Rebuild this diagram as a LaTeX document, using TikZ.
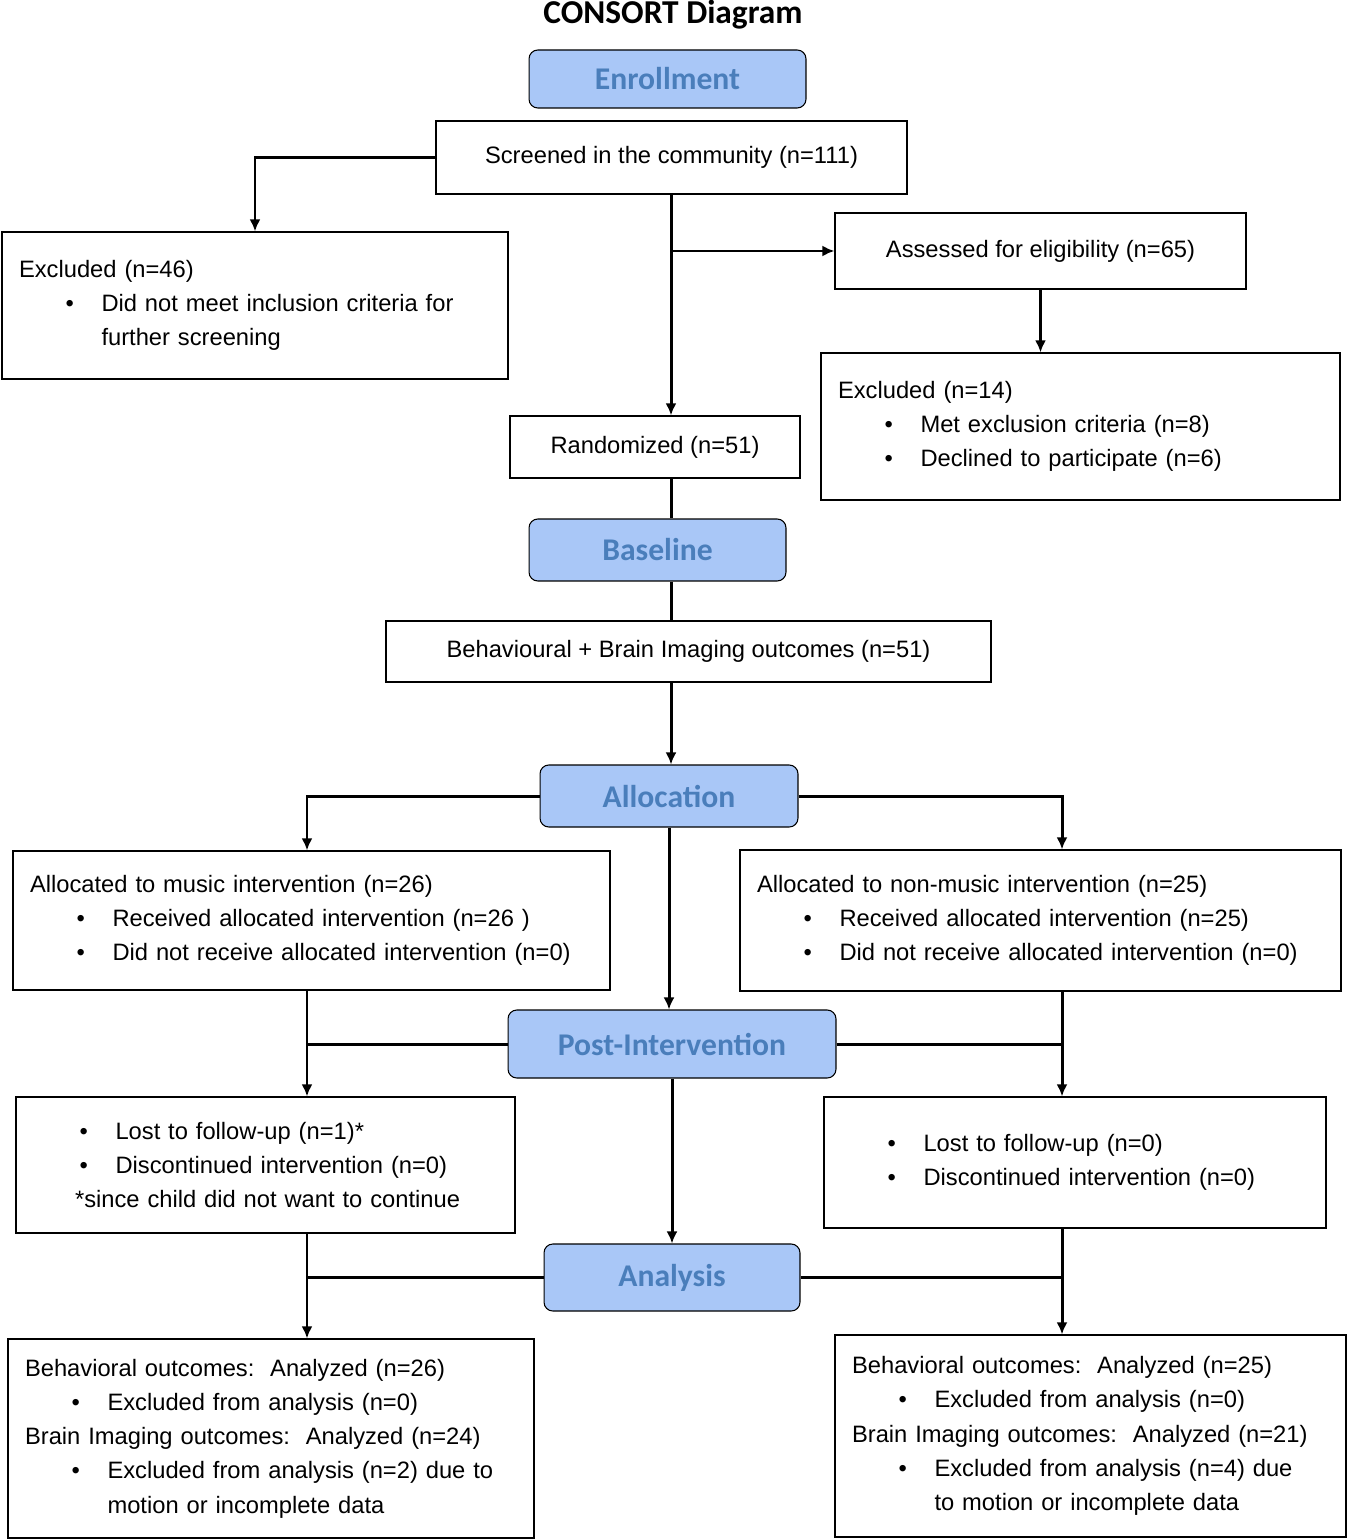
\documentclass[tikz,border=0pt]{standalone}
\usepackage{fontspec}
\setmainfont{Liberation Sans}
\newfontfamily\carl{Carlito}
\usetikzlibrary{arrows.meta}
\definecolor{phasefill}{HTML}{A9C7F7}
\definecolor{phasetext}{HTML}{4A7EBB}
\newcommand\bl{\hspace*{0.93cm}\makebox[0.72cm][l]{\textbullet}}
\newcommand\cont{\hspace*{1.65cm}}
\tikzset{
  box/.style={draw, line width=0.7pt, inner xsep=0.34cm, inner ysep=0pt,
    font=\fontsize{13.5}{19.5}\selectfont},
  lbox/.style={box, align=left},
  cbox/.style={box, align=center},
  phase/.style={draw, line width=0.6pt, rounded corners=5pt, fill=phasefill,
    text=phasetext, font=\carl\bfseries\fontsize{18}{20}\selectfont},
  arr/.style={line width=1.7pt, -{Latex[length=0.24cm,width=0.22cm]}},
  ln/.style={line width=1.7pt},
}
\begin{document}
\begin{tikzpicture}[x=0.02cm, y=-0.02cm]
\useasboundingbox (0,0) rectangle (1347,1540);
\node (title) at (673,15) {\carl\bfseries\fontsize{19}{21}\selectfont CONSORT Diagram};
% enrollment
\node[phase, minimum width=5.54cm, minimum height=1.16cm] (enroll) at (667.5,79) {Enrollment};
\node[cbox, minimum width=9.42cm, minimum height=1.46cm] (screen) at (671.5,157.5) {Screened in the community (n=111)};
\node[lbox, text width=9.44cm, minimum height=2.94cm] (excl46) at (255,305.5)
  {Excluded (n=46)\\\bl Did not meet inclusion criteria for\\\cont further screening};
\node[cbox, minimum width=8.22cm, minimum height=1.52cm] (assess) at (1040.5,251) {Assessed for eligibility (n=65)};
\node[lbox, text width=9.7cm, minimum height=2.94cm] (excl14) at (1080.5,426.5)
  {Excluded (n=14)\\\bl Met exclusion criteria (n=8)\\\bl Declined to participate (n=6)};
\node[cbox, minimum width=5.8cm, minimum height=1.24cm] (random) at (655,447) {Randomized (n=51)};
% baseline
\node[phase, minimum width=5.14cm, minimum height=1.24cm] (base) at (657.5,550) {Baseline};
\node[cbox, minimum width=12.1cm, minimum height=1.22cm] (behav) at (688.5,651.5) {Behavioural + Brain Imaging outcomes (n=51)};
% allocation
\node[phase, minimum width=5.16cm, minimum height=1.24cm] (alloc) at (669,796) {Allocation};
\node[lbox, text width=11.26cm, minimum height=2.78cm] (music) at (311.5,920.5)
  {Allocated to music intervention (n=26)\\\bl Received allocated intervention (n=26 )\\\bl Did not receive allocated intervention (n=0)};
\node[lbox, text width=11.34cm, minimum height=2.82cm] (nonmus) at (1040.5,920.5)
  {Allocated to non-music intervention (n=25)\\\bl Received allocated intervention (n=25)\\\bl Did not receive allocated intervention (n=0)};
% post-intervention
\node[phase, minimum width=6.56cm, minimum height=1.36cm] (post) at (672,1044) {Post-Intervention};
\node[lbox, text width=9.3cm, minimum height=2.72cm] (lost1) at (265.5,1165)
  {\bl Lost to follow-up (n=1)*\\\bl Discontinued intervention (n=0)\\\hspace*{0.84cm}*since child did not want to continue};
\node[lbox, text width=9.36cm, minimum height=2.62cm] (lost0) at (1075,1162.5)
  {\bl Lost to follow-up (n=0)\\\bl Discontinued intervention (n=0)\\[0.6cm]};
% analysis
\node[phase, minimum width=5.12cm, minimum height=1.34cm] (anal) at (672,1277.5) {Analysis};
\node[lbox, text width=9.84cm, minimum height=3.98cm] (analL) at (271,1438.5)
  {Behavioral outcomes:\ \ Analyzed (n=26)\\\bl Excluded from analysis (n=0)\\Brain Imaging outcomes:\ \ Analyzed (n=24)\\\bl Excluded from analysis (n=2) due to\\\cont motion or incomplete data};
\node[lbox, text width=9.54cm, minimum height=4.04cm] (analR) at (1090.5,1436)
  {Behavioral outcomes:\ \ Analyzed (n=25)\\\bl Excluded from analysis (n=0)\\Brain Imaging outcomes:\ \ Analyzed (n=21)\\\bl Excluded from analysis (n=4) due\\\cont to motion or incomplete data};
\coordinate (lx) at (307,0);
\coordinate (rx) at (1062,0);
\coordinate (mx) at (671,0);
% connectors
\draw[arr] (screen.west) -| (excl46.north);
\draw[arr] (mx|-screen.south) -- (mx|-random.north);
\draw[arr] (mx|-assess.west) -- (assess.west);
\draw[arr] (assess.south) -- (assess.south|-excl14.north);
\draw[ln] (mx|-random.south) -- (mx|-base.north);
\draw[ln] (mx|-base.south) -- (mx|-behav.north);
\draw[arr] (mx|-behav.south) -- (mx|-alloc.north);
\draw[arr] (alloc.west) -| (lx|-music.north);
\draw[arr] (alloc.east) -| (rx|-nonmus.north);
\draw[arr] (alloc.south) -- (alloc.south|-post.north);
\draw[arr] (lx|-music.south) -- (lx|-lost1.north);
\draw[arr] (rx|-nonmus.south) -- (rx|-lost0.north);
\draw[ln] (post.west) -- (lx|-post.west);
\draw[ln] (post.east) -- (rx|-post.east);
\draw[arr] (post.south) -- (post.south|-anal.north);
\draw[arr] (lx|-lost1.south) -- (lx|-analL.north);
\draw[arr] (rx|-lost0.south) -- (rx|-analR.north);
\draw[ln] (anal.west) -- (lx|-anal.west);
\draw[ln] (anal.east) -- (rx|-anal.east);
\end{tikzpicture}
\end{document}
